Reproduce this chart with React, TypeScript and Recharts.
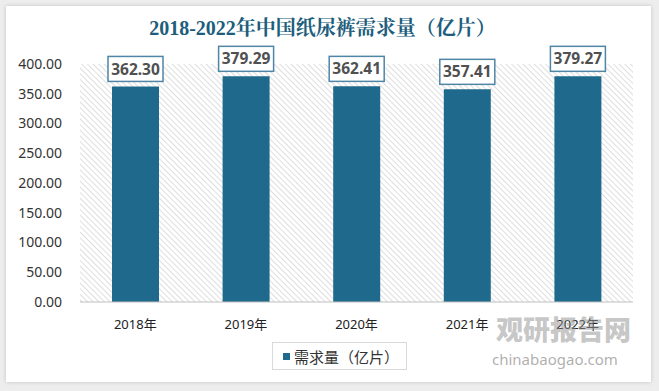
import { Bar, BarChart, CartesianGrid, LabelList, XAxis, YAxis } from 'recharts';

const years = ['2018年', '2019年', '2020年', '2021年', '2022年'];
const demand = [362.3, 379.29, 362.41, 357.41, 379.27];
const yTicks = [0, 50, 100, 150, 200, 250, 300, 350, 400];

const seriesName = '需求量（亿片）';
const title = '2018-2022年中国纸尿裤需求量（亿片）';

const data = years.map((year, i) => ({ year, demand: demand[i] }));

const BAR = '#1f6a8c';
const SANS = '"Noto Sans", "Noto Sans CJK SC", sans-serif';

function ValueBox(props: any) {
  const { x, y, width, value } = props;
  const cx = Number(x) + Number(width) / 2;
  const w = 55;
  const h = 25;
  const top = Number(y) - 5 - h;
  return (
    <g>
      <rect x={cx - w / 2} y={top} width={w} height={h} fill="#fff" stroke="#4f86a6" strokeWidth={1.5} />
      <text
        x={cx}
        y={top + h / 2}
        dy="0.36em"
        textAnchor="middle"
        fill="#505050"
        fontSize={15.5}
        fontWeight={700}
        fontFamily={SANS}
      >
        {Number(value).toFixed(2)}
      </text>
    </g>
  );
}

export default function App() {
  return (
    <div
      style={{
        position: 'absolute',
        left: 0,
        top: 0,
        width: 659,
        height: 391,
        background: '#ededed',
        overflow: 'hidden',
      }}
    >
      <div
        style={{
          position: 'absolute',
          left: 6,
          top: 6,
          width: 645,
          height: 376,
          background: '#fff',
          boxShadow: '0 0 4px rgba(0,0,0,0.18)',
        }}
      />
      <div
        style={{
          position: 'absolute',
          left: 0,
          top: 16,
          width: 645,
          textAlign: 'center',
          fontFamily: '"Liberation Serif", "Noto Serif CJK SC", "Noto Sans CJK SC", serif',
          fontWeight: 700,
          fontSize: 20,
          color: '#205d7c',
          lineHeight: '24px',
        }}
      >
        {title}
      </div>

      <div style={{ position: 'absolute', left: 0, top: 0 }}>
        <BarChart width={659} height={391} data={data} margin={{ top: 64, right: 26, bottom: 59, left: 20 }}>
          <defs>
            <pattern id="hatch" patternUnits="userSpaceOnUse" width={4} height={4} patternTransform="rotate(-45)">
              <rect width={4} height={4} fill="#fff" />
              <line x1={0} y1={0} x2={0} y2={4} stroke="#d6d6d6" strokeWidth={1.6} />
            </pattern>
          </defs>
          <CartesianGrid horizontal={false} vertical={false} fill="url(#hatch)" />
          <XAxis
            dataKey="year"
            height={30}
            tickLine={false}
            axisLine={{ stroke: '#bfbfbf' }}
            tickMargin={12}
            tick={{ fill: '#222', fontSize: 13, fontFamily: SANS }}
          />
          <YAxis
            width={60}
            domain={[0, 400]}
            ticks={yTicks}
            axisLine={false}
            tickLine={false}
            tickSize={0}
            tickMargin={18}
            tickFormatter={(v: number) => v.toFixed(2)}
            tick={{ fill: '#333', fontSize: 14, fontFamily: SANS }}
          />
          <Bar dataKey="demand" name={seriesName} fill={BAR} barSize={47} isAnimationActive={false}>
            <LabelList dataKey="demand" content={ValueBox} />
          </Bar>
        </BarChart>
      </div>

      <div
        style={{
          position: 'absolute',
          left: 272,
          top: 342,
          width: 135,
          height: 28,
          border: '1px solid #d9d9d9',
          display: 'flex',
          alignItems: 'center',
          fontFamily: SANS,
          fontSize: 15,
          color: '#333',
          boxSizing: 'border-box',
        }}
      >
        <span style={{ display: 'inline-block', width: 7, height: 7, background: BAR, marginLeft: 10, marginRight: 4 }} />
        {seriesName}
      </div>

      <div
        style={{
          position: 'absolute',
          left: 496,
          top: 312,
          fontFamily: '"Noto Sans CJK SC", sans-serif',
          fontWeight: 900,
          fontSize: 27,
          color: 'rgba(150,150,150,0.55)',
          lineHeight: '34px',
        }}
      >
        观研报告网
      </div>
      <div
        style={{
          position: 'absolute',
          left: 492,
          top: 350,
          fontFamily: SANS,
          fontSize: 15,
          color: 'rgba(140,140,140,0.7)',
          lineHeight: '18px',
        }}
      >
        chinabaogao.com
      </div>
    </div>
  );
}
